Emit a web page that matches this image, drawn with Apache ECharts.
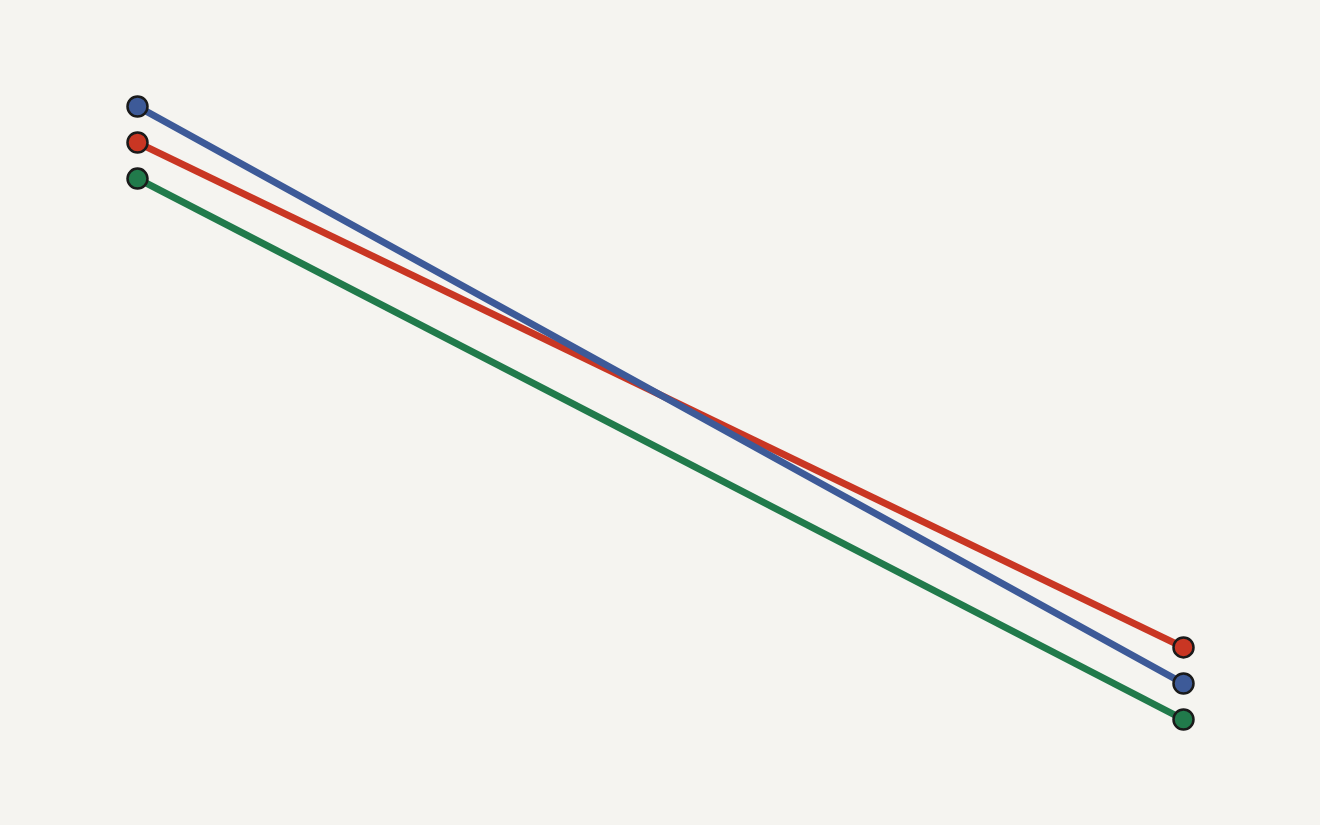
<!DOCTYPE html>
<html>
<head>
<meta charset="utf-8">
<style>
  html, body { margin: 0; padding: 0; background: #f5f4f0; }
  #chart { width: 1320px; height: 825px; }
</style>
<script src="https://cdn.jsdelivr.net/npm/echarts@6/dist/echarts.min.js"></script>
</head>
<body>
<div id="chart"></div>
<script>
// two ends of the slope chart
var categories = ["Before", "After"];
var blueValues = [17, 1];
var redValues = [16, 2];
var greenValues = [15, 0];

(function() {
  var myChart = echarts.init(document.getElementById("chart"));

  function makeSeries(name, data, color) {
    return {
      name: name,
      type: "line",
      data: data,
      symbol: "circle",
      symbolSize: 20,
      lineStyle: { color: color, width: 7 },
      itemStyle: { color: color, borderColor: "#1a1a1a", borderWidth: 2.5 },
      emphasis: { disabled: true }
    };
  }

  var option = {
    backgroundColor: "#f5f4f0",
    animation: false,
    grid: { left: 137.5, right: 136.5, top: 106.5, bottom: 105.5 },
    xAxis: {
      type: "category",
      data: categories,
      boundaryGap: false,
      show: false
    },
    yAxis: {
      type: "value",
      min: 0,
      max: 17,
      show: false
    },
    // blue drawn last so it sits on top where it crosses red
    series: [
      makeSeries("green", greenValues, "#217a4b"),
      makeSeries("red", redValues, "#c93623"),
      makeSeries("blue", blueValues, "#3d5a98")
    ]
  };
  myChart.setOption(option);
})();
</script>
</body>
</html>
